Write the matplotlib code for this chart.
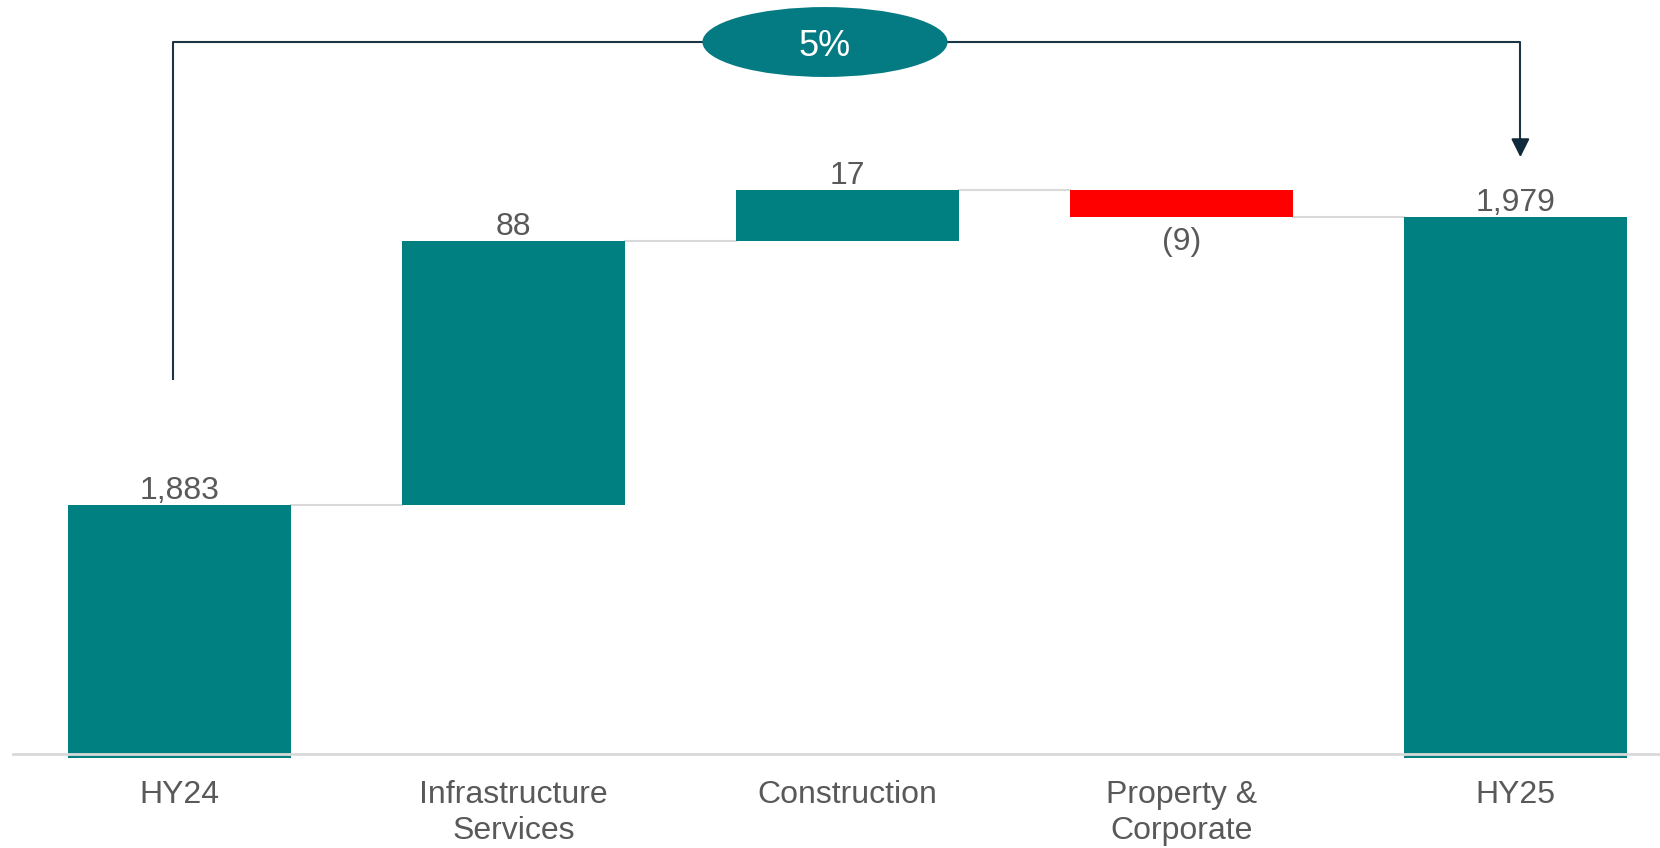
import matplotlib.pyplot as plt
from matplotlib.patches import Ellipse

plt.rcParams['font.family'] = ['Liberation Sans', 'DejaVu Sans']

categories = ["HY24", "Infrastructure\nServices", "Construction", "Property &\nCorporate", "HY25"]
values = [1883, 88, 17, -9, 1979]
labels = ["1,883", "88", "17", "(9)", "1,979"]

teal = '#008080'
red = '#ff0000'
grey_text = '#595959'
axis_min = 1800

fig = plt.figure(figsize=(16.6, 8.48), dpi=100)
ax = fig.add_axes([0, 0, 1, 1])
ax.set_xlim(-0.537, 4.433)
ax.set_ylim(1768.7, 2051.3)
ax.axis('off')

bar_w = 0.667
base_bottom = axis_min - 1.3

# running total for the floating bars
running = 0
tops = []
for i, v in enumerate(values):
    if i == 0 or i == len(values) - 1:
        bottom = base_bottom
        height = v - base_bottom
        running = v
        color = teal
        top = v
    else:
        start = running
        running = running + v
        bottom = min(start, running)
        height = abs(v)
        color = teal if v >= 0 else red
        top = running
    tops.append(top)
    ax.bar(i, height, bottom=bottom, width=bar_w, color=color, zorder=2)

    if v >= 0 or i == len(values) - 1:
        ax.text(i, max(bottom + height, top) - 0.2, labels[i], ha='center', va='bottom',
                fontsize=23, color=grey_text)
    else:
        ax.text(i, bottom - 3.2, labels[i], ha='center', va='top',
                fontsize=23, color=grey_text)

# connector lines between bars
for i in range(len(values) - 1):
    ax.plot([i + bar_w / 2, i + 1 - bar_w / 2], [tops[i], tops[i]],
            color='#d9d9d9', lw=1.5, zorder=1)

# baseline
ax.axhline(axis_min, xmin=0.008, xmax=1, color='#d9d9d9', lw=2, zorder=3)

# category labels under the axis
for i, c in enumerate(categories):
    ax.text(i, axis_min - 8.5, c, ha='center', va='top', fontsize=23,
            color=grey_text, linespacing=1.3)

# growth bracket with arrow
growth = (values[-1] - values[0]) / values[0] * 100
bracket_y = 2037.3
left_x, right_x = -0.02, 4.015
line_col = '#1b3545'
ax.plot([left_x, left_x, right_x, right_x],
        [values[0] + 42, bracket_y, bracket_y, values[-1] + 26],
        color=line_col, lw=1.5, zorder=4)
ax.annotate('', xy=(right_x, values[-1] + 19), xytext=(right_x, values[-1] + 27),
            arrowprops=dict(arrowstyle='-|>', color='#0f2a3a', lw=1.5,
                            mutation_scale=28), zorder=5)
ell = Ellipse((1.933, bracket_y), 0.734, 23.3, facecolor='#047b83',
              edgecolor='none', zorder=6)
ax.add_patch(ell)
ax.text(1.933, bracket_y - 1.6, f"{growth:.0f}%", ha='center', va='center',
        fontsize=26, color='white', zorder=7)

fig.savefig('out.png', dpi=100)
